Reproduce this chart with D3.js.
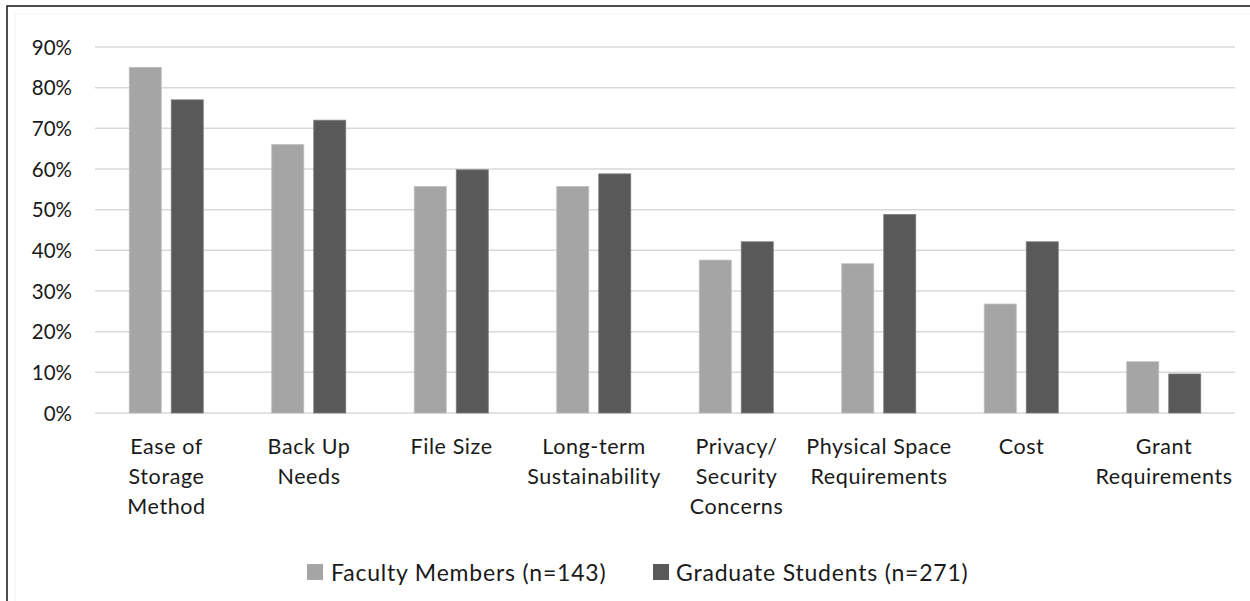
<!DOCTYPE html>
<html><head><meta charset="utf-8">
<script src="https://cdn.jsdelivr.net/npm/d3@7"></script>
<style>body{margin:0;background:#fff;}svg{display:block;}</style>
</head><body>
<svg id="c" width="1250" height="601"></svg>
<script>
const categories = ["Ease of Storage Method","Back Up Needs","File Size","Long-term Sustainability","Privacy/ Security Concerns","Physical Space Requirements","Cost","Grant Requirements"];
const categoryLines = [["Ease of","Storage","Method"],["Back Up","Needs"],["File Size"],["Long-term","Sustainability"],["Privacy/","Security","Concerns"],["Physical Space","Requirements"],["Cost"],["Grant","Requirements"]];
const seriesNames = ["Faculty Members (n=143)","Graduate Students (n=271)"];
const faculty = [85, 66, 55.7, 55.7, 37.6, 36.7, 26.8, 12.6];
const graduate = [77, 72, 59.8, 58.8, 42.1, 48.8, 42.1, 9.6];
const yTicks = [0,10,20,30,40,50,60,70,80,90];
const colors = ["#a5a5a5","#595959"];

const svg = d3.select("#c");
const font = "Lato, 'Open Sans', sans-serif";
// frame
svg.append("rect").attr("x",7).attr("y",6).attr("width",1300).attr("height",700)
  .attr("fill","none").attr("stroke","#222").attr("stroke-width",1.6);
svg.append("rect").attr("x",15).attr("y",14).attr("width",1300).attr("height",700)
  .attr("fill","none").attr("stroke","#f3f3f3").attr("stroke-width",1);

const mLeft = 95, mRight = 1235, mTop = 47, mBottom = 413;
const y = d3.scaleLinear().domain([0,90]).range([mBottom, mTop]);
const x0 = d3.scaleBand().domain(categories).range([mLeft, mRight]);
const x1 = d3.scaleBand().domain(seriesNames).range([-37,37]).paddingInner(2-74/42);

// gridlines
svg.append("g").selectAll("line").data(yTicks).join("line")
  .attr("x1",mLeft).attr("x2",mRight)
  .attr("y1",d=>y(d)).attr("y2",d=>y(d))
  .attr("stroke","#d9d9d9").attr("stroke-width",1.5);

// y axis labels
const yAxis = d3.axisLeft(y).tickValues(yTicks).tickFormat(d=>d+"%").tickSize(0).tickPadding(0);
const gy = svg.append("g").attr("transform","translate(72,0)").call(yAxis);
gy.select(".domain").remove();
gy.selectAll("text").attr("font-family",font).attr("font-size",20.5).attr("fill","#1a1a1a").attr("dy","0.35em");

// bars
const data = [faculty, graduate];
data.forEach((vals,si)=>{
  svg.append("g").selectAll("rect").data(vals).join("rect")
    .attr("x",(d,i)=>x0(categories[i])+x0.bandwidth()/2+x1(seriesNames[si]))
    .attr("width",x1.bandwidth())
    .attr("y",d=>y(d))
    .attr("height",d=>y(0)-y(d))
    .attr("fill",colors[si])
    .attr("stroke", si===0 ? "#bdbdbd" : "#7a7a7a").attr("stroke-width",0.8);
});

// x labels
const gx = svg.append("g");
categories.forEach((c,i)=>{
  const cx = x0(c)+x0.bandwidth()/2;
  const t = gx.append("text").attr("text-anchor","middle")
    .attr("font-family",font).attr("font-size",21.5).attr("letter-spacing","0.6px").attr("fill","#1a1a1a");
  categoryLines[i].forEach((ln,j)=>{
    t.append("tspan").attr("x",cx+0.3).attr("y",454+j*30).text(ln);
  });
});

// legend
const legendItems = [{x:307, tx:331},{x:653, tx:676}];
seriesNames.forEach((s,i)=>{
  svg.append("rect").attr("x",legendItems[i].x).attr("y",564).attr("width",16).attr("height",16).attr("fill",colors[i]);
  svg.append("text").attr("x",legendItems[i].tx).attr("y",581)
    .attr("font-family",font).attr("font-size",23).attr("letter-spacing","0.8px").attr("fill","#1a1a1a").text(s);
});
</script>
</body></html>
